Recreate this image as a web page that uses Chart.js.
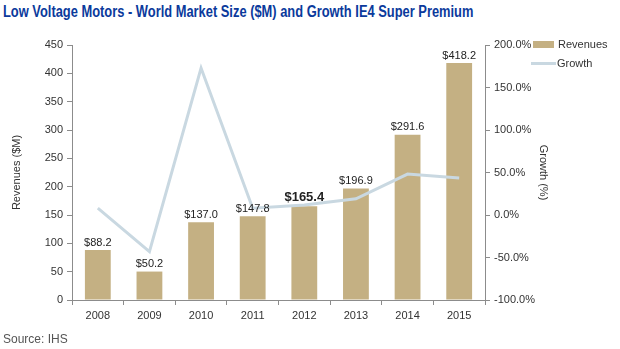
<!DOCTYPE html>
<html>
<head>
<meta charset="utf-8">
<script src="https://cdn.jsdelivr.net/npm/chart.js@4/dist/chart.umd.min.js"></script>
<style>
  html, body { margin: 0; padding: 0; background: #fff; }
  body { width: 620px; height: 349px; position: relative; overflow: hidden; font-family: 'Liberation Sans', Arial, sans-serif; }
  #titulo { position: absolute; left: 3px; top: 3px; font-size: 16px; font-weight: bold; color: #0B3A9C; white-space: nowrap; transform: scaleX(0.805); transform-origin: left top; }
  #fuente { position: absolute; left: 3px; top: 332px; font-size: 12px; color: #555; }
  #grafico { position: absolute; left: 0; top: 0; }
  .leyenda { position: absolute; left: 531px; font-size: 11px; color: #333; display: flex; align-items: center; }
  .caja { width: 21px; height: 7px; background: #C4B083; margin-right: 4px; margin-left: 2px; }
  .linea { width: 25px; height: 3px; background: #C9D8E1; margin-right: 1px; }
</style>
</head>
<body>
<div id="titulo">Low Voltage Motors - World Market Size ($M) and Growth IE4 Super Premium</div>
<canvas id="grafico" width="620" height="349"></canvas>
<div class="leyenda" style="top:38px"><span class="caja"></span>Revenues</div>
<div class="leyenda" style="top:57px"><span class="linea"></span>Growth</div>
<div id="fuente">Source: IHS</div>

<script>
// datos
const ANIOS = ['2008', '2009', '2010', '2011', '2012', '2013', '2014', '2015'];
const INGRESOS = [88.2, 50.2, 137.0, 147.8, 165.4, 196.9, 291.6, 418.2];
const CRECIMIENTO = [8.0, -43.1, 172.9, 7.9, 11.9, 19.0, 48.1, 43.4];

const COLOR_BARRA = '#C4B083';
const COLOR_LINEA = '#C9D8E1';
const COLOR_EJE = '#8C8C8C';
const FUENTE = 'Liberation Sans';

// etiquetas "$88.2" encima de cada barra; la de 2012 va en negrita
const etiquetasBarras = {
  id: 'etiquetasBarras',
  afterDatasetsDraw(chart) {
    const ctx = chart.ctx;
    const meta = chart.getDatasetMeta(1);
    ctx.save();
    ctx.textAlign = 'center';
    ctx.textBaseline = 'bottom';
    ctx.fillStyle = '#222';
    meta.data.forEach((bar, i) => {
      const destacado = i === 4;
      ctx.font = destacado ? `bold 13px ${FUENTE}` : `11px ${FUENTE}`;
      ctx.fillText('$' + INGRESOS[i].toFixed(1), bar.x, bar.y - 2);
    });
    ctx.restore();
  }
};

new Chart(document.getElementById('grafico'), {
  type: 'bar',
  data: {
    labels: ANIOS,
    datasets: [
      {
        type: 'line',
        label: 'Growth',
        data: CRECIMIENTO,
        yAxisID: 'y1',
        borderColor: COLOR_LINEA,
        borderWidth: 3,
        pointRadius: 0,
        tension: 0,
        fill: false,
        order: 0,
      },
      {
        label: 'Revenues',
        data: INGRESOS,
        yAxisID: 'y',
        backgroundColor: COLOR_BARRA,
        borderWidth: 0,
        categoryPercentage: 1,
        barPercentage: 0.5,
        order: 1,
      }
    ]
  },
  options: {
    responsive: false,
    animation: false,
    layout: { padding: { top: 45, right: 62, left: 6, bottom: 0 } },
    plugins: { legend: { display: false }, tooltip: { enabled: false } },
    scales: {
      x: {
        afterFit: s => { s.height = 49; },
        grid: { drawOnChartArea: false, color: COLOR_EJE, tickLength: 5, offset: true },
        border: { color: COLOR_EJE },
        ticks: { color: '#333', font: { family: FUENTE, size: 11 }, padding: 4 },
      },
      y: {
        position: 'left',
        min: 0, max: 450,
        afterFit: s => { s.width = 66; },
        grid: { drawOnChartArea: false, color: COLOR_EJE, tickLength: 5 },
        border: { color: COLOR_EJE },
        ticks: { stepSize: 50, color: '#333', font: { family: FUENTE, size: 11 }, padding: 4 },
        title: { display: true, text: 'Revenues ($M)', color: '#333', font: { family: FUENTE, size: 11 }, padding: 4 },
      },
      y1: {
        position: 'right',
        min: -100, max: 200,
        afterFit: s => { s.width = 73; },
        grid: { drawOnChartArea: false, color: COLOR_EJE, tickLength: 5 },
        border: { color: COLOR_EJE },
        ticks: {
          stepSize: 50, color: '#333', font: { family: FUENTE, size: 11 }, padding: 4,
          callback: v => v.toFixed(1) + '%'
        },
        title: { display: true, text: 'Growth (%)', color: '#333', font: { family: FUENTE, size: 11 }, padding: 8 },
      }
    }
  },
  plugins: [etiquetasBarras]
});
</script>
</body>
</html>
